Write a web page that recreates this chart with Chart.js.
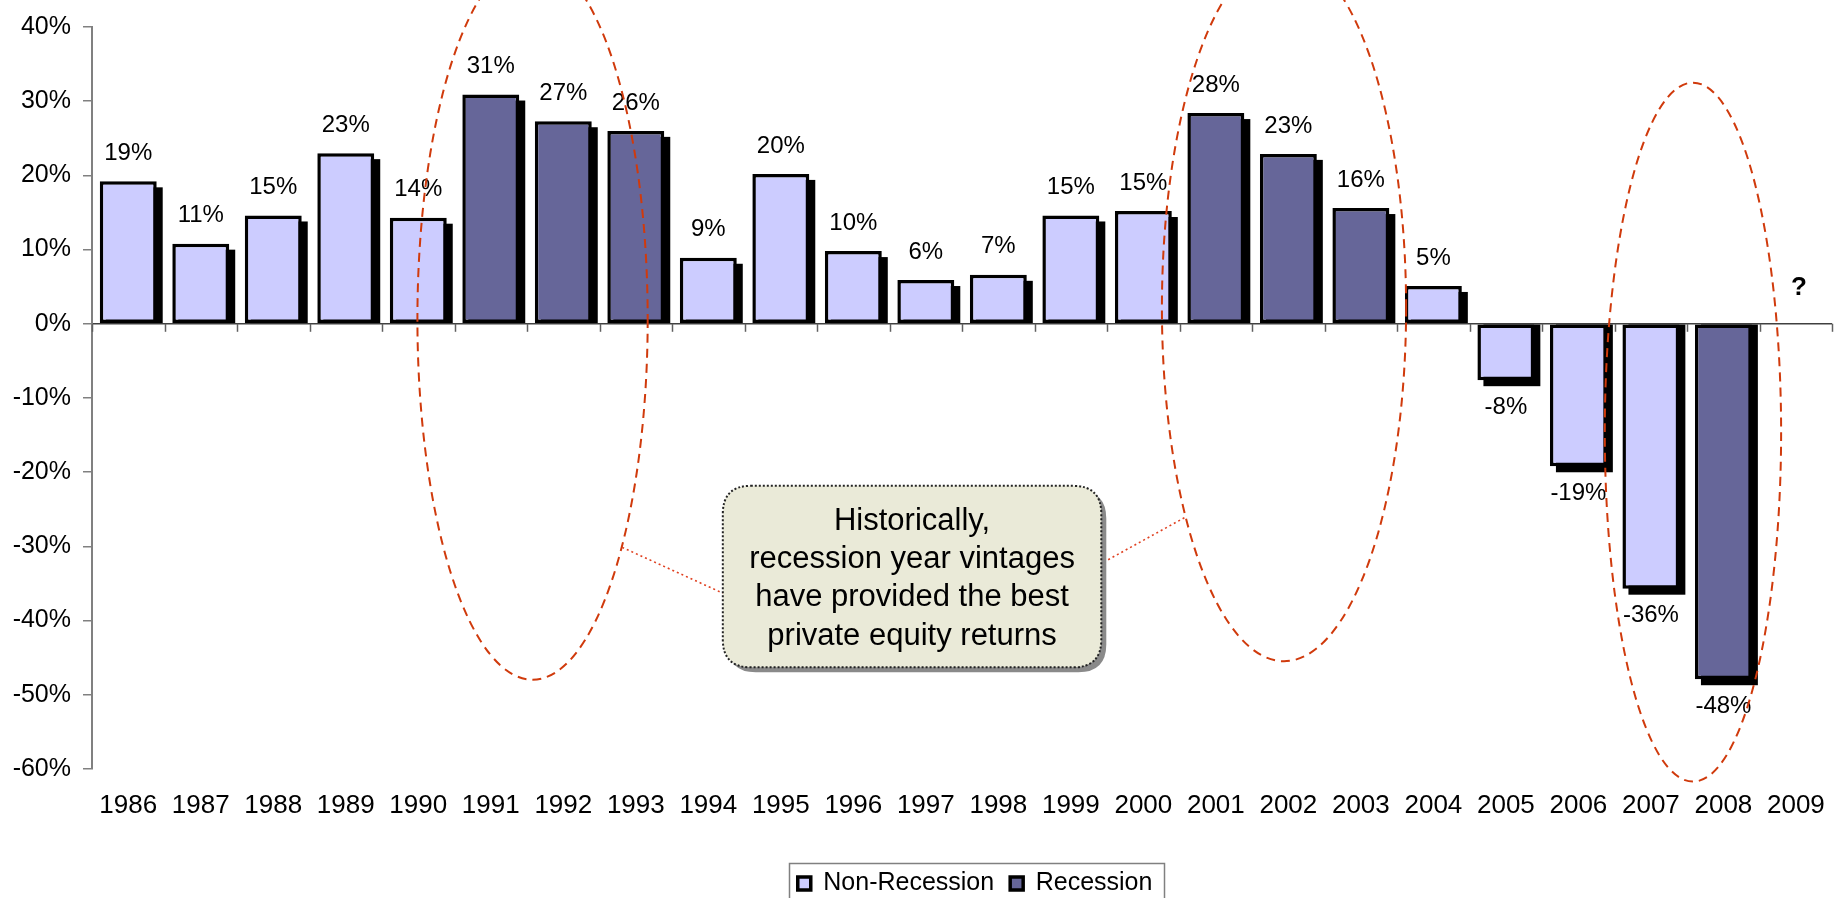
<!DOCTYPE html>
<html>
<head>
<meta charset="utf-8">
<script src="https://cdn.jsdelivr.net/npm/chart.js@4.4.1/dist/chart.umd.min.js"></script>
<style>
  html, body { margin: 0; padding: 0; background: #ffffff; }
  #wrap { width: 1846px; height: 898px; position: relative; }
</style>
</head>
<body>
<div id="wrap"><canvas id="c" width="1846" height="898"></canvas></div>
<script>
// ---- data ----
const years = ['1986','1987','1988','1989','1990','1991','1992','1993','1994','1995','1996','1997','1998','1999','2000','2001','2002','2003','2004','2005','2006','2007','2008','2009'];
const nonRecession = [19.2, 10.8, 14.6, 23.0, 14.3, null, null, null, 8.9, 20.2, 9.8, 5.9, 6.6, 14.6, 15.2, null, null, null, 5.1, -7.6, -19.2, -35.7, null, null];
const recession    = [null, null, null, null, null, 30.9, 27.3, 26.0, null, null, null, null, null, null, null, 28.4, 22.9, 15.6, null, null, null, null, -47.9, null];
const unknownYears = ['2009'];
const yTicks = [-60, -50, -40, -30, -20, -10, 0, 10, 20, 30, 40];
const seriesNames = ['Non-Recession', 'Recession'];
const calloutLines = ['Historically,', 'recession year vintages', 'have provided the best', 'private equity returns'];

const FONT = "'Liberation Sans', Arial, Helvetica, sans-serif";
Chart.defaults.font.family = FONT;
Chart.defaults.color = '#000';

// shadows behind bars (drawn from bar element geometry)
const barShadow = {
  id: 'barShadow',
  beforeDatasetsDraw(chart) {
    const ctx = chart.ctx;
    ctx.save();
    ctx.fillStyle = '#000';
    chart.data.datasets.forEach((ds, di) => {
      const meta = chart.getDatasetMeta(di);
      meta.data.forEach((bar, i) => {
        const v = ds.data[i];
        if (v === null || v === undefined) return;
        const p = bar.getProps(['x', 'y', 'base', 'width'], true);
        const l = p.x - p.width / 2 + 6, r = p.x + p.width / 2 + 6;
        let t, b;
        if (v >= 0) { t = p.y + 6; b = p.base; } else { t = p.base; b = p.y + 6; }
        ctx.fillRect(l, t, r - l, b - t);
      });
    });
    ctx.restore();
  }
};

// value labels, zero-line tick marks
const valueLabels = {
  id: 'valueLabels',
  afterDatasetsDraw(chart) {
    const ctx = chart.ctx;
    const xs = chart.scales.x, ys = chart.scales.y;
    const zeroY = ys.getPixelForValue(0);
    ctx.save();
    ctx.strokeStyle = '#606060';
    ctx.lineWidth = 1.5;
    const n = years.length;
    for (let i = 0; i <= n; i++) {
      const x = Math.round(xs.getPixelForValue(i - 0.5)) + 0.5;
      ctx.beginPath();
      ctx.moveTo(x, zeroY);
      ctx.lineTo(x, zeroY + 8);
      ctx.stroke();
    }
    ctx.fillStyle = '#000';
    ctx.font = '24px ' + FONT;
    ctx.textAlign = 'center';
    ctx.textBaseline = 'middle';
    chart.data.datasets.forEach((ds, di) => {
      const meta = chart.getDatasetMeta(di);
      meta.data.forEach((bar, i) => {
        const v = ds.data[i];
        if (v === null || v === undefined) return;
        const p = bar.getProps(['x', 'y'], true);
        const txt = Math.round(v) + '%';
        const y = v >= 0 ? p.y - 28 : p.y + 27;
        ctx.fillText(txt, p.x, y);
      });
    });
    ctx.font = 'bold 26px ' + FONT;
    unknownYears.forEach(yr => {
      const i = years.indexOf(yr);
      ctx.fillText('?', xs.getPixelForValue(i) + 3, zeroY - 36);
    });
    ctx.restore();
  }
};

// annotation shapes, anchored to the scales
const ellipses = [
  { cx: 5.576, a: 1.588, cy: 0.63, b: 48.6 },
  { cx: 15.94, a: 1.684, cy: 2.17, b: 47.65 },
  { cx: 21.58, a: 1.216, cy: -14.6, b: 47.1 }
];
const callout = { x0: 8.20, x1: 13.42, y0: -21.84, y1: -46.3 };
const connectors = [
  { e: 0, cos: 0.779, sin: 0.633, side: 'left', yv: -36.3 },
  { e: 1, cos: -0.816, sin: 0.594, side: 'right', yv: -32.3 }
];

function roundRect(ctx, x, y, w, h, r) {
  ctx.beginPath();
  ctx.moveTo(x + r, y);
  ctx.lineTo(x + w - r, y);
  ctx.quadraticCurveTo(x + w, y, x + w, y + r);
  ctx.lineTo(x + w, y + h - r);
  ctx.quadraticCurveTo(x + w, y + h, x + w - r, y + h);
  ctx.lineTo(x + r, y + h);
  ctx.quadraticCurveTo(x, y + h, x, y + h - r);
  ctx.lineTo(x, y + r);
  ctx.quadraticCurveTo(x, y, x + r, y);
  ctx.closePath();
}

// nudge legend to sit under the plot like the original
const legendShift = {
  id: 'legendShift',
  afterUpdate(chart) {
    const lg = chart.legend;
    if (!lg) return;
    const dx = 13, dy = 2;
    lg.left += dx; lg.right += dx; lg.top += dy; lg.bottom += dy;
    (lg.legendHitBoxes || []).forEach(h => { h.left += dx; h.top += dy; });
  }
};

const annotations = {
  id: 'annotations',
  afterDraw(chart) {
    const ctx = chart.ctx;
    const xs = chart.scales.x, ys = chart.scales.y;
    const catW = xs.width / years.length;
    const unitY = Math.abs(ys.getPixelForValue(1) - ys.getPixelForValue(0));
    const E = ellipses.map(e => ({
      cx: xs.getPixelForValue(e.cx), a: e.a * catW,
      cy: ys.getPixelForValue(e.cy), b: e.b * unitY
    }));
    ctx.save();
    ctx.strokeStyle = '#D03A0C';
    ctx.lineWidth = 2;
    ctx.setLineDash([9, 6]);
    E.forEach(e => {
      ctx.beginPath();
      ctx.ellipse(e.cx, e.cy, e.a, e.b, 0, 0, Math.PI * 2);
      ctx.stroke();
    });
    const bx0 = xs.getPixelForValue(callout.x0), bx1 = xs.getPixelForValue(callout.x1);
    const by0 = ys.getPixelForValue(callout.y0), by1 = ys.getPixelForValue(callout.y1);
    ctx.setLineDash([2, 3]);
    ctx.lineWidth = 1.6;
    ctx.strokeStyle = '#E04020';
    connectors.forEach(c => {
      const e = E[c.e];
      const px = e.cx + e.a * c.cos, py = e.cy + e.b * c.sin;
      const qx = c.side === 'left' ? bx0 : bx1;
      const qy = ys.getPixelForValue(c.yv);
      ctx.beginPath();
      ctx.moveTo(px, py);
      ctx.lineTo(qx, qy);
      ctx.stroke();
    });
    ctx.setLineDash([]);
    ctx.fillStyle = '#8a8a8a';
    roundRect(ctx, bx0 + 5, by0 + 5, bx1 - bx0, by1 - by0, 28);
    ctx.fill();
    ctx.fillStyle = '#EAEAD8';
    roundRect(ctx, bx0, by0, bx1 - bx0, by1 - by0, 28);
    ctx.fill();
    ctx.setLineDash([2, 2]);
    ctx.lineWidth = 2;
    ctx.strokeStyle = '#222';
    ctx.stroke();
    ctx.setLineDash([]);
    ctx.fillStyle = '#000';
    ctx.font = '31px ' + FONT;
    ctx.textAlign = 'center';
    ctx.textBaseline = 'middle';
    const midX = (bx0 + bx1) / 2, midY = (by0 + by1) / 2 + 2;
    const lh = 38.3;
    calloutLines.forEach((t, i) => {
      ctx.fillText(t, midX, midY + (i - (calloutLines.length - 1) / 2) * lh);
    });
    // legend frame
    const lg = chart.legend;
    if (lg && lg.legendHitBoxes && lg.legendHitBoxes.length) {
      const hb = lg.legendHitBoxes;
      const first = hb[0], last = hb[hb.length - 1];
      const cy = first.top + first.height / 2;
      ctx.strokeStyle = '#808080';
      ctx.lineWidth = 1.5;
      ctx.strokeRect(Math.round(first.left - 9) + 0.5, Math.round(cy - 21) + 0.5,
        Math.round(last.left + last.width + 11 - (first.left - 9)), 60);
    }
    ctx.restore();
  }
};

new Chart(document.getElementById('c'), {
  type: 'bar',
  data: {
    labels: years,
    datasets: [
      { label: seriesNames[0], data: nonRecession, backgroundColor: '#CCCCFF', borderColor: '#000', borderWidth: 3.5, borderSkipped: false },
      { label: seriesNames[1], data: recession, backgroundColor: '#666699', borderColor: '#000', borderWidth: 3.5, borderSkipped: false }
    ]
  },
  options: {
    responsive: false,
    animation: false,
    devicePixelRatio: 1,
    categoryPercentage: 0.785,
    barPercentage: 1.0,
    layout: { padding: { top: 23, right: 8, left: 0, bottom: -6 } },
    plugins: {
      legend: {
        position: 'bottom',
        fullSize: false,
        labels: { font: { size: 25 }, color: '#000', boxWidth: 13, boxHeight: 13, padding: 16 }
      },
      tooltip: { enabled: false },
      title: { display: false }
    },
    scales: {
      x: {
        stacked: true,
        grid: { display: false, drawTicks: false },
        border: { display: false },
        ticks: { font: { size: 26 }, color: '#000', padding: 21, maxRotation: 0, autoSkip: false },
        afterFit: s => { s.height = 84; }
      },
      y: {
        stacked: true,
        min: yTicks[0], max: yTicks[yTicks.length - 1],
        afterBuildTicks: s => { s.ticks = yTicks.map(v => ({ value: v })); },
        ticks: { font: { size: 25 }, color: '#000', padding: 12, callback: v => v + '%' },
        grid: {
          color: c => (c.tick && c.tick.value === 0) ? '#404040' : 'rgba(0,0,0,0)',
          lineWidth: 1.5, tickLength: 9, tickColor: '#808080', drawOnChartArea: true
        },
        border: { color: '#808080', width: 2 },
        afterFit: s => { s.width = 92; }
      }
    }
  },
  plugins: [legendShift, barShadow, valueLabels, annotations]
});
</script>
</body>
</html>
